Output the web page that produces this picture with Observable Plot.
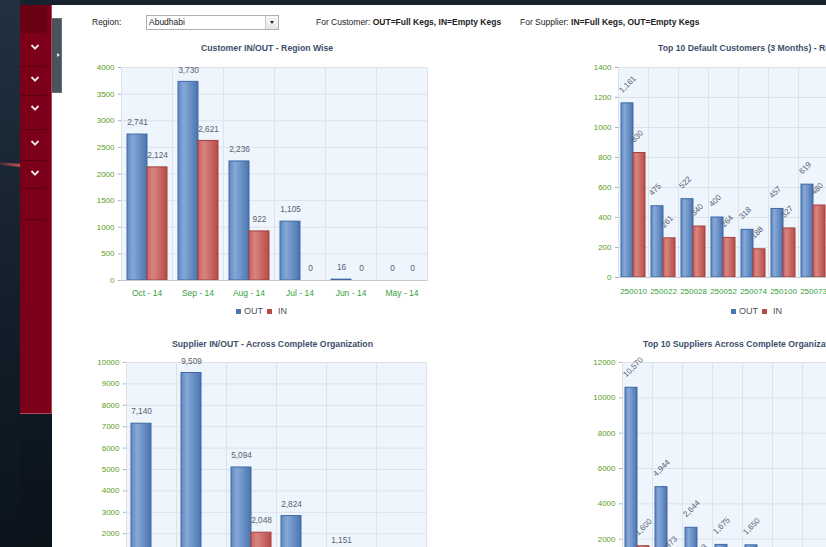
<!DOCTYPE html>
<html><head><meta charset="utf-8">
<script src="https://cdn.jsdelivr.net/npm/d3@7"></script>
<script src="https://cdn.jsdelivr.net/npm/@observablehq/plot@0.6"></script>
<style>
html,body{margin:0;padding:0;}
body{width:826px;height:547px;overflow:hidden;position:relative;background:#fff;font-family:"Liberation Sans",Arial,sans-serif;}
.abs{position:absolute;}
#bgtop{left:0;top:0;width:826px;height:5px;background:#17222d;}
#bgleft{left:0;top:0;width:20px;height:547px;background:linear-gradient(#223040,#121d29 60%,#0b141c);}
#bgleft2{left:20px;top:414px;width:32px;height:133px;background:linear-gradient(#0e1822,#0a121a);}
#streak{left:0;top:163px;width:21px;height:3px;background:linear-gradient(90deg,rgba(190,60,60,.25),rgba(230,90,90,.85));transform:rotate(6deg);}
#sidebar{left:20px;top:5px;width:31px;height:408px;background:#7c0019;border-right:1px solid #b0465a;border-bottom:1px solid #b0465a;}
#sbtop{left:20px;top:5px;width:27px;height:28px;background:#6a0014;}
.sep{position:absolute;left:20px;width:27px;height:1px;background:#5e0011;}
.chev{position:absolute;left:30px;width:10px;height:6px;}
#tab{left:52px;top:18px;width:9px;height:73px;background:#4b535d;border:1px solid #666e78;border-left:none;}
#tabarrow{left:57px;top:53px;width:0;height:0;border-top:2.5px solid transparent;border-bottom:2.5px solid transparent;border-left:3px solid #e8e8e8;}
.hdr{position:absolute;top:16px;height:12px;line-height:12px;font-size:8.5px;color:#222;white-space:nowrap;}
#sel{left:146px;top:15px;width:131px;height:13px;border:1px solid #a9b0b8;background:#fff;}
#seltxt{position:absolute;left:2px;top:0;line-height:13px;font-size:8.5px;color:#222;}
#selbtn{position:absolute;right:0;top:0;width:12px;height:13px;border-left:1px solid #c3c8ce;background:linear-gradient(#fbfbfb,#e4e4e4);}
#seltri{position:absolute;left:4px;top:5px;width:0;height:0;border-left:2.5px solid transparent;border-right:2.5px solid transparent;border-top:3px solid #222;}
.title{position:absolute;height:12px;line-height:12px;font-size:8.7px;font-weight:bold;color:#3e4d6b;white-space:nowrap;}
.legend{position:absolute;height:10px;line-height:10px;font-size:9px;color:#4a5160;white-space:nowrap;display:flex;align-items:center;}
.sq{display:inline-block;width:5px;height:5px;}
.chart{position:absolute;}
.chart svg{max-width:none !important;}
</style>
</head>
<body>
<svg width="0" height="0" style="position:absolute">
<defs>
<linearGradient id="gOut" x1="0" x2="1" y1="0" y2="0">
<stop offset="0" stop-color="#5f89c2"/><stop offset="0.3" stop-color="#85a8d7"/><stop offset="1" stop-color="#4a74b0"/>
</linearGradient>
<linearGradient id="gIn" x1="0" x2="1" y1="0" y2="0">
<stop offset="0" stop-color="#c8625f"/><stop offset="0.3" stop-color="#d8857f"/><stop offset="1" stop-color="#b74a46"/>
</linearGradient>
</defs>
</svg>
<div id="bgtop" class="abs"></div>
<div id="bgleft" class="abs"></div>
<div id="bgleft2" class="abs"></div>
<div id="streak" class="abs"></div>
<div id="sidebar" class="abs"></div>
<div id="sbtop" class="abs"></div>
<div id="tab" class="abs"></div>
<div id="tabarrow" class="abs"></div>

<div class="hdr" style="left:92px">Region:</div>
<div id="sel" class="abs"><span id="seltxt">Abudhabi</span><div id="selbtn"><div id="seltri"></div></div></div>
<div class="hdr" style="left:316px">For Customer: <b>OUT=Full Kegs, IN=Empty Kegs</b></div>
<div class="hdr" style="left:520px">For Supplier: <b>IN=Full Kegs, OUT=Empty Kegs</b></div>

<div class="title" style="left:201px;top:42px">Customer IN/OUT - Region Wise</div>
<div class="title" style="left:658px;top:42px">Top 10 Default Customers (3 Months) - Region Wise</div>
<div class="title" style="left:172px;top:338px">Supplier IN/OUT - Across Complete Organization</div>
<div class="title" style="left:643px;top:338px">Top 10 Suppliers Across Complete Organization</div>

<div id="c1" class="chart"></div>
<div id="c2" class="chart"></div>
<div id="c3" class="chart"></div>
<div id="c4" class="chart"></div>

<script>
// ---------- data ----------
const seriesNames = ["OUT", "IN"];

const customerMonths = ["Oct - 14", "Sep - 14", "Aug - 14", "Jul - 14", "Jun - 14", "May - 14"];
const customerOut = [2741, 3730, 2236, 1105, 16, 0];
const customerIn = [2124, 2621, 922, 0, 0, 0];
const customerTicks = [0, 500, 1000, 1500, 2000, 2500, 3000, 3500, 4000];

const defaultCustomers = ["250010", "250022", "250028", "250052", "250074", "250100", "250073"];
const defaultOut = [1161, 475, 522, 400, 318, 457, 619];
const defaultIn = [830, 261, 340, 264, 188, 327, 480];
const defaultTicks = [0, 200, 400, 600, 800, 1000, 1200, 1400];

const supplierMonths = ["Oct - 14", "Sep - 14", "Aug - 14", "Jul - 14", "Jun - 14", "May - 14"];
const supplierOut = [7140, 9509, 5094, 2824, 1151, null];
const supplierIn = [null, null, 2048, null, null, null];
const supplierTicks = [0, 1000, 2000, 3000, 4000, 5000, 6000, 7000, 8000, 9000, 10000];

// supplier codes sit below the visible area of the screenshot
const topSuppliers = ["S1", "S2", "S3", "S4", "S5", "S6", "S7"];
const topSupplierOut = [10570, 4944, 2644, 1675, 1650, null, null];
const topSupplierIn = [1600, 873, 443, null, null, null, null];
const topSupplierTicks = [0, 2000, 4000, 6000, 8000, 10000, 12000];

// ---------- sidebar decoration ----------
[65.5, 94.5, 129, 160, 188, 219].forEach(y => {
  const d = document.createElement("div"); d.className = "sep"; d.style.top = y + "px"; document.body.appendChild(d);
});
[44, 76, 105, 140, 170].forEach(y => {
  const s = document.createElementNS("http://www.w3.org/2000/svg", "svg");
  s.setAttribute("class", "chev"); s.style.top = y + "px";
  s.setAttribute("viewBox", "0 0 10 6");
  s.innerHTML = '<polyline points="1.5,1 5,4.6 8.5,1" fill="none" stroke="#f3e3e6" stroke-width="1.9"/>';
  document.body.appendChild(s);
});

// ---------- legends ----------
function legend(left, top) {
  const d = document.createElement("div");
  d.className = "legend"; d.style.left = left + "px"; d.style.top = top + "px";
  d.innerHTML = '<span class="sq" style="background:#4a76b2"></span><span style="margin-left:3px">OUT</span>' +
    '<span class="sq" style="background:#b84c49;margin-left:4px"></span><span style="margin-left:6px">IN</span>';
  document.body.appendChild(d);
}
legend(236, 306);
legend(731, 306);

// ---------- charts ----------
const fmt = d3.format(",");
function chart(el, cfg) {
  const rows = [];
  cfg.cats.forEach((c, i) => {
    rows.push({cat: c, series: "OUT", value: cfg.out[i]});
    rows.push({cat: c, series: "IN", value: cfg.inn[i]});
  });
  const yMax = cfg.ticks[cfg.ticks.length - 1];
  const lab = cfg.rotate
    ? {rotate: -45, textAnchor: "start", dx: -7, dy: -12}
    : {dy: -12};
  const svg = Plot.plot({
    width: cfg.width, height: cfg.height,
    marginLeft: cfg.ml, marginRight: cfg.mr, marginTop: cfg.mt, marginBottom: cfg.mb,
    style: {fontFamily: "Liberation Sans, Arial, sans-serif", fontSize: "8px", color: "#36a03c", background: "transparent", maxWidth: "none"},
    facet: {data: rows, x: "cat"},
    fx: {domain: cfg.cats, padding: 0, axis: "bottom", label: null, tickSize: 0, tickPadding: cfg.xPad},
    x: {domain: seriesNames, paddingInner: 0, paddingOuter: cfg.pad, axis: null},
    y: {domain: [0, yMax], ticks: cfg.ticks, tickSize: 3, tickPadding: 4, label: null, tickFormat: d => String(d)},
    marks: [
      Plot.frame({fill: "#eef5fd", stroke: "#dbe2ea"}),
      Plot.ruleY(cfg.ticks, {stroke: "#dbe2ea"}),
      Plot.barY(rows, {filter: d => d.series === "OUT" && d.value != null, x: "series", y: "value", fill: "url(#gOut)", stroke: "#3f69a3", strokeWidth: 1}),
      Plot.barY(rows, {filter: d => d.series === "IN" && d.value != null, x: "series", y: "value", fill: "url(#gIn)", stroke: "#a5403d", strokeWidth: 1}),
      Plot.ruleY([0], {stroke: "#c2c8cf"}),
      Plot.text(rows, {filter: d => d.value != null, x: "series", y: "value", text: d => fmt(d.value), fill: "#5a6170", fontSize: cfg.labelSize, ...lab})
    ]
  });
  svg.style.maxWidth = "none";
  svg.querySelectorAll('[aria-label^="y-axis"] line, [aria-label^="y-axis"] path').forEach(e => e.setAttribute("stroke", "#aab2ba"));
  svg.querySelectorAll('[aria-label^="y-axis"] text').forEach(e => e.setAttribute("fill", "#5c9c1c"));
  svg.querySelectorAll('[aria-label^="fx-axis"] text').forEach(e => { e.setAttribute("fill", "#36a03c"); e.style.fontSize = cfg.xSize + "px"; });
  const box = document.getElementById(el);
  box.style.left = cfg.left + "px"; box.style.top = cfg.top + "px";
  box.style.width = cfg.width + "px"; box.style.height = cfg.height + "px";
  box.appendChild(svg);
}

chart("c1", {cats: customerMonths, out: customerOut, inn: customerIn, ticks: customerTicks,
  left: 85, top: 57, width: 355, height: 248, ml: 35, mr: 12, mt: 10, mb: 25, pad: 0.22, labelSize: 8.3, xSize: 8.5, xPad: 9});
chart("c2", {cats: defaultCustomers, out: defaultOut, inn: defaultIn, ticks: defaultTicks, rotate: true,
  left: 576, top: 57, width: 254, height: 245, ml: 40, mr: 0, mt: 10, mb: 25, pad: 0.2, labelSize: 8, xSize: 8, xPad: 11});
chart("c3", {cats: supplierMonths, out: supplierOut, inn: supplierIn, ticks: supplierTicks,
  left: 85, top: 352, width: 355, height: 249, ml: 38, mr: 12, mt: 10, mb: 25, pad: 0.25, labelSize: 8.3, xSize: 8.5, xPad: 9});
chart("c4", {cats: topSuppliers, out: topSupplierOut, inn: topSupplierIn, ticks: topSupplierTicks, rotate: true,
  left: 576, top: 352, width: 256, height: 247, ml: 45, mr: 0, mt: 10, mb: 25, pad: 0.2, labelSize: 8, xSize: 8, xPad: 11});
</script>
</body></html>
